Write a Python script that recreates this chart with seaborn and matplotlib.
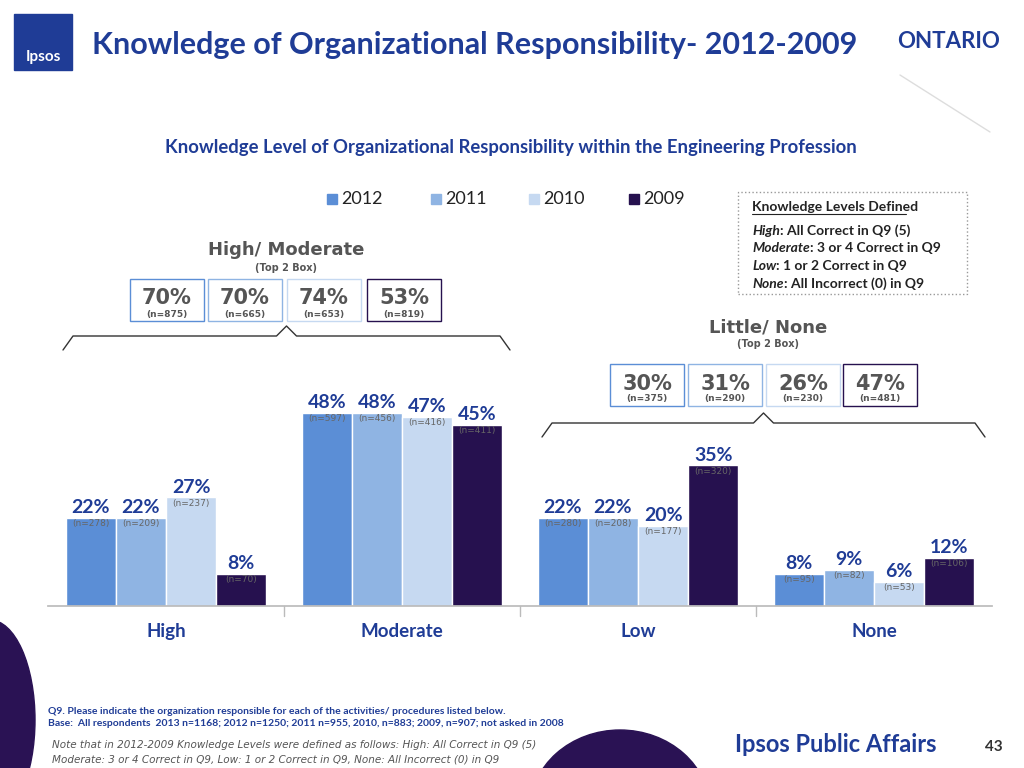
import matplotlib
matplotlib.use("Agg")
import matplotlib.pyplot as plt
import seaborn as sns
import pandas as pd
from matplotlib.patches import Rectangle, Ellipse

categories = ["High", "Moderate", "Low", "None"]
years = ["2012", "2011", "2010", "2009"]
values = {
    "2012": [22, 48, 22, 8],
    "2011": [22, 48, 22, 9],
    "2010": [27, 47, 20, 6],
    "2009": [8, 45, 35, 12],
}
ns = {
    "2012": ["(n=278)", "(n=597)", "(n=280)", "(n=95)"],
    "2011": ["(n=209)", "(n=456)", "(n=208)", "(n=82)"],
    "2010": ["(n=237)", "(n=416)", "(n=177)", "(n=53)"],
    "2009": ["(n=70)", "(n=411)", "(n=320)", "(n=106)"],
}
top_pct = ["70%", "70%", "74%", "53%"]
top_n = ["(n=875)", "(n=665)", "(n=653)", "(n=819)"]
bot_pct = ["30%", "31%", "26%", "47%"]
bot_n = ["(n=375)", "(n=290)", "(n=230)", "(n=481)"]
colors = ["#5B8ED6", "#8FB4E3", "#C6D9F1", "#26114F"]
navy = "#1F3C96"

rows = [(c, y, values[y][i]) for y in years for i, c in enumerate(categories)]
df = pd.DataFrame(rows, columns=["cat", "year", "val"])

sns.set_theme(style="white")
plt.rcParams["font.family"] = ["Lato", "DejaVu Sans"]
fig = plt.figure(figsize=(10.24, 7.68), dpi=100)
W, H = 1024, 768
def fx(x): return x / W
def fy(y): return 1 - y / H

ax = fig.add_axes([fx(48), fy(606), fx(944), fy(405) - fy(606)])
sns.barplot(data=df, x="cat", y="val", hue="year", palette=colors, ax=ax,
            width=0.85, saturation=1, edgecolor="white", linewidth=1, legend=False)
ax.set_ylim(0, 50)
ax.set_xlim(-0.5, 3.5)
ax.set_yticks([])
ax.set_xlabel(""); ax.set_ylabel("")
for s in ["top", "right", "left"]:
    ax.spines[s].set_visible(False)
ax.spines["bottom"].set_color("#BBBBBB")
ax.tick_params(axis="x", length=0, pad=12)
for lab in ax.get_xticklabels():
    lab.set_color(navy); lab.set_fontsize(13.5); lab.set_fontweight("bold")
for b in [0.5, 1.5, 2.5]:
    ax.plot([b, b], [0, -2.5], color="#BBBBBB", lw=1, clip_on=False)

for j, y in enumerate(years):
    cont = ax.containers[j]
    for i, bar in enumerate(cont):
        xc = bar.get_x() + bar.get_width() / 2
        h = bar.get_height()
        ax.text(xc, h + 0.4, f"{values[y][i]}%", ha="center", va="bottom",
                color=navy, fontsize=14, fontweight="bold")
        ax.text(xc, h - 0.3, ns[y][i], ha="center", va="top", color="#666666", fontsize=6.5,
                family="DejaVu Sans")

# Header
fig.patches.append(Rectangle((fx(14), fy(70)), fx(58), fy(14) - fy(70), transform=fig.transFigure,
                             color="#1F3C96"))
fig.text(fx(43), fy(57), "Ipsos", color="white", fontsize=11, fontweight="bold", ha="center", va="center")
fig.text(fx(92), fy(45), "Knowledge of Organizational Responsibility- 2012-2009", color=navy,
         fontsize=22, fontweight="bold", va="center")
fig.text(fx(1000), fy(42), "ONTARIO", color=navy, fontsize=16, fontweight="bold", ha="right", va="center")
fig.lines.append(plt.Line2D([fx(900), fx(990)], [fy(75), fy(132)], transform=fig.transFigure, color="#DDDDDD", lw=1))
fig.text(fx(511), fy(147), "Knowledge Level of Organizational Responsibility within the Engineering Profession",
         color=navy, fontsize=13.3, fontweight="bold", ha="center", va="center")

# Legend
lx = [327, 431, 529, 629]
for x, y, c in zip(lx, years, colors):
    fig.patches.append(Rectangle((fx(x), fy(204)), fx(10), fy(194) - fy(204), transform=fig.transFigure, color=c))
    fig.text(fx(x + 14), fy(199), y, fontsize=13, va="center", color="#222222")

# Definitions box
fig.patches.append(Rectangle((fx(738), fy(294)), fx(229), fy(192) - fy(294), transform=fig.transFigure,
                             fill=False, ec="#999999", ls=":", lw=1))
fig.text(fx(752), fy(207), "Knowledge Levels Defined", fontsize=10, fontweight="bold", color="#222222", va="center")
fig.lines.append(plt.Line2D([fx(752), fx(906)], [fy(214), fy(214)], transform=fig.transFigure, color="#222222", lw=0.8))
defs = [("High", ": All Correct in Q9 (5)"), ("Moderate", ": 3 or 4 Correct in Q9"),
        ("Low", ": 1 or 2 Correct in Q9"), ("None", ": All Incorrect (0) in Q9")]
fig.canvas.draw()
for k, (a, b) in enumerate(defs):
    yy = fy(231 + k * 17.5)
    t = fig.text(fx(752), yy, a, fontsize=10, fontweight="bold", style="italic", color="#222222", va="center")
    bb = t.get_window_extent(renderer=fig.canvas.get_renderer())
    fig.text(bb.x1 / W, yy, b, fontsize=10, fontweight="bold", color="#222222", va="center")

# Top 2 boxes
fig.text(fx(286), fy(250), "High/ Moderate", fontsize=13, fontweight="bold", color="#555555", ha="center", va="center",
         family="DejaVu Sans")
fig.text(fx(286), fy(268), "(Top 2 Box)", fontsize=7, fontweight="bold", color="#555555", ha="center", va="center",
         family="DejaVu Sans")
edge = ["#5B8ED6", "#8FB4E3", "#C6D9F1", "#26114F"]
bx = [130, 208, 287, 367]
for k, x in enumerate(bx):
    fig.patches.append(Rectangle((fx(x), fy(321)), fx(74), fy(279) - fy(321), transform=fig.transFigure,
                                 fill=False, ec=edge[k], lw=1))
    fig.text(fx(x + 37), fy(298), top_pct[k], fontsize=15, fontweight="bold", color="#555555", ha="center", va="center",
             family="DejaVu Sans")
    fig.text(fx(x + 37), fy(314), top_n[k], fontsize=6.5, fontweight="bold", color="#555555", ha="center", va="center",
             family="DejaVu Sans")
fig.text(fx(768), fy(327), "Little/ None", fontsize=13, fontweight="bold", color="#555555", ha="center", va="center",
         family="DejaVu Sans")
fig.text(fx(768), fy(344), "(Top 2 Box)", fontsize=7, fontweight="bold", color="#555555", ha="center", va="center",
         family="DejaVu Sans")
bx2 = [610, 688, 766, 843]
for k, x in enumerate(bx2):
    fig.patches.append(Rectangle((fx(x), fy(406)), fx(74), fy(364) - fy(406), transform=fig.transFigure,
                                 fill=False, ec=edge[k], lw=1))
    fig.text(fx(x + 37), fy(384), bot_pct[k], fontsize=15, fontweight="bold", color="#555555", ha="center", va="center",
             family="DejaVu Sans")
    fig.text(fx(x + 37), fy(399), bot_n[k], fontsize=6.5, fontweight="bold", color="#555555", ha="center", va="center",
             family="DejaVu Sans")

# Braces
def brace(x0, x1, ytop, ybot):
    xm = (x0 + x1) / 2
    xs = [x0, x0 + 10, xm - 10, xm, xm + 10, x1 - 10, x1]
    ys = [ybot, ytop + 10, ytop + 10, ytop, ytop + 10, ytop + 10, ybot]
    fig.lines.append(plt.Line2D([fx(v) for v in xs], [fy(v) for v in ys], transform=fig.transFigure,
                                color="#333333", lw=1))
brace(63, 510, 326, 350)
brace(542, 985, 413, 437)

# Footer
fig.text(fx(48), fy(711), "Q9. Please indicate the organization responsible for each of the activities/ procedures listed below.",
         fontsize=7.5, fontweight="bold", color=navy, va="center")
fig.text(fx(48), fy(724), "Base:  All respondents  2013 n=1168; 2012 n=1250; 2011 n=955, 2010, n=883; 2009, n=907; not asked in 2008",
         fontsize=7.5, fontweight="bold", color=navy, va="center")
fig.text(fx(52), fy(745), "Note that in 2012-2009 Knowledge Levels were defined as follows: High: All Correct in Q9 (5)",
         fontsize=7.5, style="italic", color="#555555", va="center", family="DejaVu Sans")
fig.text(fx(52), fy(759), "Moderate: 3 or 4 Correct in Q9, Low: 1 or 2 Correct in Q9, None: All Incorrect (0) in Q9",
         fontsize=7.5, style="italic", color="#555555", va="center", family="DejaVu Sans")
fig.text(fx(836), fy(745), "Ipsos Public Affairs", fontsize=17, fontweight="bold", color=navy, ha="center", va="center")
fig.text(fx(1003), fy(747), "43", fontsize=11, fontweight="bold", color="#333333", ha="right", va="center")

fig.patches.append(Ellipse((fx(-10), fy(720)), fx(90), fy(620) - fy(820), transform=fig.transFigure,
                           color="#2A1254", zorder=-1))
fig.patches.append(Ellipse((fx(620), fy(810)), fx(180), fy(730) - fy(890), transform=fig.transFigure,
                           color="#2A1254", zorder=-1))

fig.savefig("out.png", dpi=100)
